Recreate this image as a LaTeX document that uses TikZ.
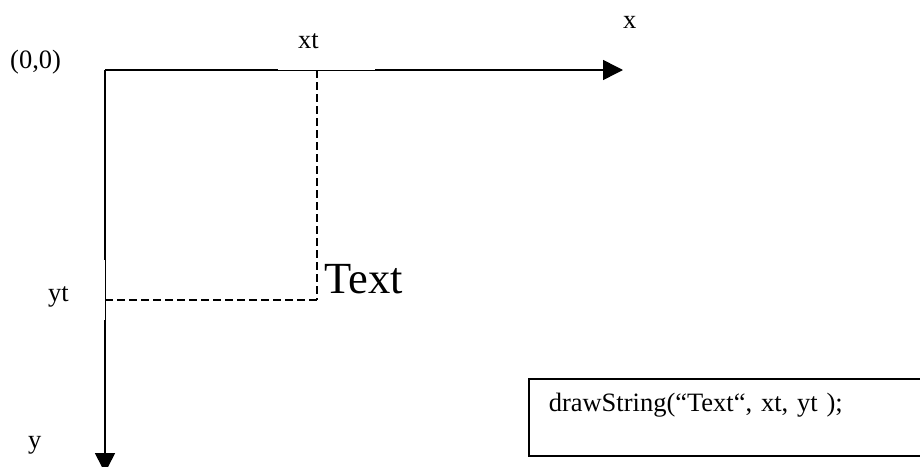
\documentclass[tikz,border=0pt]{standalone}
\usepackage{fontspec}
\setmainfont{Liberation Serif}
\usetikzlibrary{arrows.meta}
\tikzset{
  axis/.style={line width=1.5pt, -{Triangle[length=20pt,width=20pt]}},
  guide/.style={line width=1.2pt, dash pattern=on 8pt off 4pt},
  lbl/.style={font=\fontsize{26.5}{30}\selectfont, inner sep=0pt, anchor=base west},
  codebox/.style={draw, line width=1.5pt, anchor=north west, align=left, text width=357pt, inner xsep=20pt, inner ysep=0pt, text height=33pt, text depth=44pt, font=\fontsize{26.5}{30}\selectfont}
}

\begin{document}
\begin{tikzpicture}[x=1pt,y=-1pt]
\useasboundingbox (0,0) rectangle (920,466);

\coordinate (origin) at (105,70);
\coordinate (xend) at (623,70);
\coordinate (yend) at (105,473);
\coordinate (xtpos) at (317,70);
\coordinate (ytpos) at (105,300);
\coordinate (corner) at (317,300);

\draw[axis] (origin) to (xend);
\draw[axis] (origin) to (yend);
\fill[white] (278,68.5) rectangle (375,70.1);
\fill[white] (103.5,260) rectangle (104.9,320);

\draw[guide] (xtpos) to (corner);
\draw[guide] (ytpos) to (corner);

\node[lbl] (zero) at (10,68) {(0,0)};
\node[lbl] (xtlbl) at (298,48) {xt};
\node[lbl] (xlbl) at (623,28) {x};
\node[lbl] (ytlbl) at (48,301) {yt};
\node[lbl] (ylbl) at (28,448) {y};
\node[lbl, font=\fontsize{44.5}{50}\selectfont] (textlbl) at (324,293) {Text};

\node[codebox] (code) at (528,378) {drawString(“Text“, xt, yt );};

\end{tikzpicture}
\end{document}
